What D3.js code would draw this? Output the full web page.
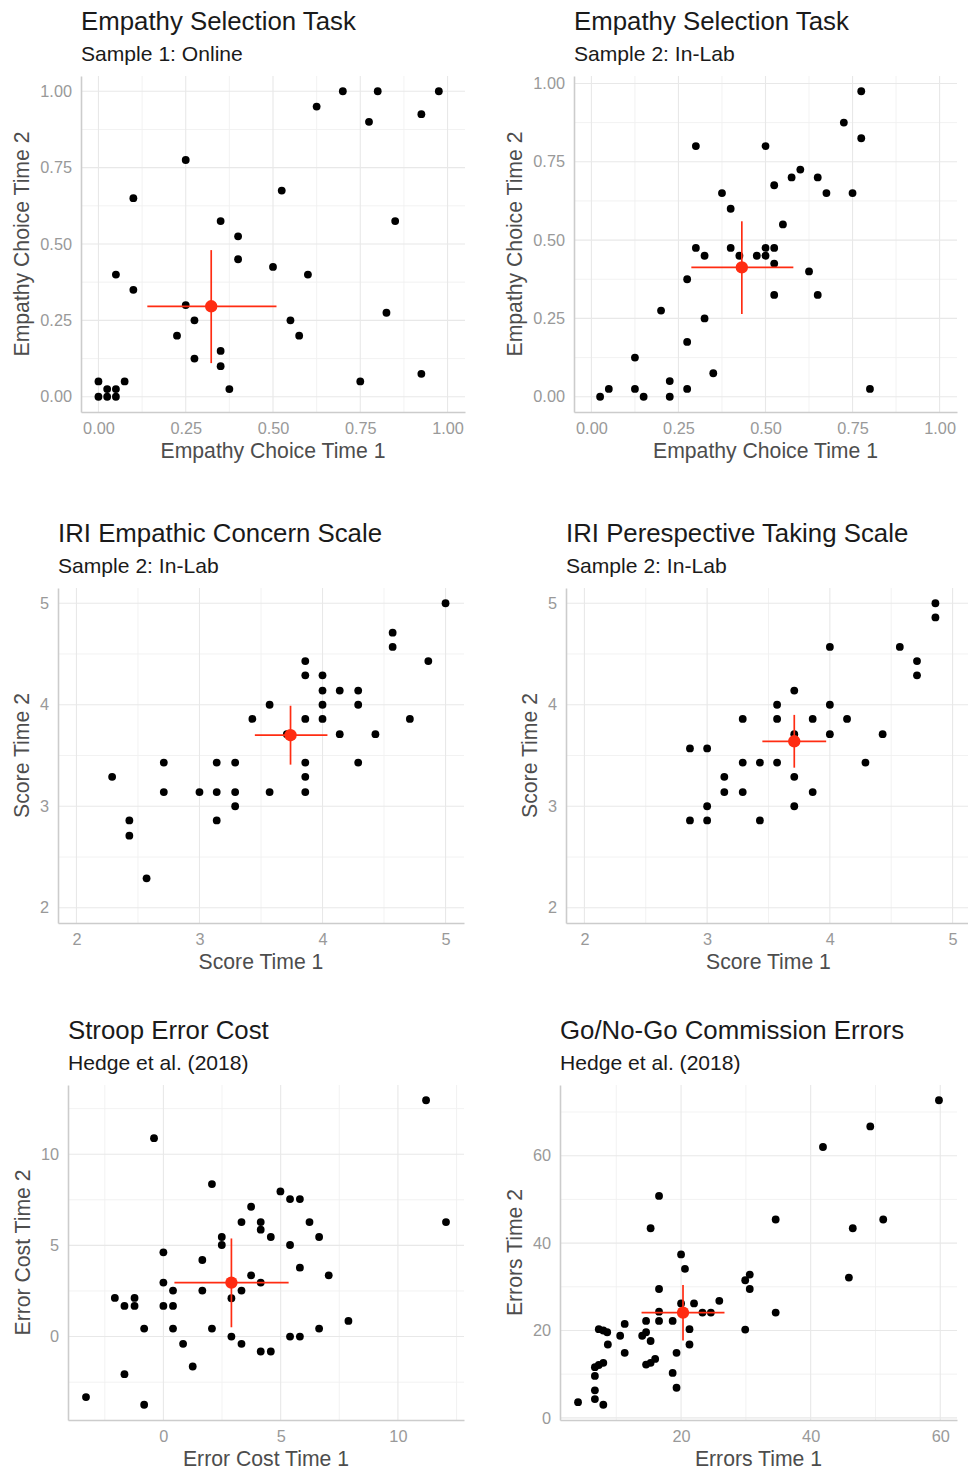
<!DOCTYPE html>
<html>
<head>
<meta charset="utf-8">
<script src="https://cdn.jsdelivr.net/npm/d3@7"></script>
<style>
  body { margin: 0; background: #fff; }
  svg { display: block; font-family: "Liberation Sans", Arial, Helvetica, sans-serif; }
</style>
</head>
<body>
<svg id="chart" width="968" height="1469"></svg>
<script>
// ---- data ----
// Empathy Selection Task, sample 1 (online)
const esOnlineT1 = [0,0,0.025,0.025,0.05,0.05,0.075,0.05,0.10,0.10,0.25,0.25,0.275,0.225,0.275,0.35,0.35,0.35,0.375,0.40,0.40,0.50,0.525,0.55,0.575,0.60,0.625,0.70,0.775,0.80,0.75,0.825,0.85,0.925,0.925,0.975];
const esOnlineT2 = [0,0.05,0,0.025,0,0.025,0.05,0.40,0.65,0.35,0.775,0.30,0.25,0.20,0.125,0.575,0.15,0.10,0.025,0.525,0.45,0.425,0.675,0.25,0.20,0.40,0.95,1.00,0.90,1.00,0.05,0.275,0.575,0.925,0.075,1.00];
const esOnlineMeanX = [0.323, 0.14, 0.51];   // mean, low, high
const esOnlineMeanY = [0.296, 0.11, 0.48];

// Empathy Selection Task, sample 2 (in-lab)
const esLabT1 = [0.025,0.05,0.125,0.125,0.15,0.20,0.225,0.225,0.275,0.275,0.275,0.30,0.30,0.325,0.325,0.35,0.375,0.40,0.40,0.425,0.475,0.50,0.50,0.50,0.525,0.525,0.525,0.525,0.55,0.575,0.60,0.625,0.65,0.65,0.675,0.725,0.75,0.775,0.775,0.80];
const esLabT2 = [0,0.025,0.025,0.125,0,0.275,0.05,0,0.025,0.175,0.375,0.80,0.475,0.45,0.25,0.075,0.65,0.60,0.475,0.45,0.45,0.80,0.475,0.45,0.475,0.425,0.675,0.325,0.55,0.70,0.725,0.40,0.70,0.325,0.65,0.875,0.65,0.975,0.825,0.025];
const esLabMeanX = [0.432, 0.287, 0.58];
const esLabMeanY = [0.413, 0.264, 0.56];

// IRI empathic concern
const ecT1 = [2.29,2.43,2.43,2.57,2.71,2.71,3,3.14,3.14,3.14,3.29,3.29,3.29,3.43,3.57,3.57,3.71,3.86,3.86,3.86,3.86,3.86,3.86,4,4,4,4,4.14,4.14,4.29,4.29,4.29,4.43,4.57,4.57,4.71,4.86,5];
const ecT2 = [3.29,2.86,2.71,2.29,3.43,3.14,3.14,3.43,3.14,2.86,3.43,3.14,3,3.86,4,3.14,3.71,4.43,4.29,3.86,3.43,3.29,3.14,4.29,4.14,4,3.86,4.14,3.71,4.14,4,3.43,3.71,4.71,4.57,3.86,4.43,5];
const ecMeanX = [3.74, 3.45, 4.04];
const ecMeanY = [3.70, 3.41, 3.99];

// IRI perspective taking
const ptT1 = [2.86,2.86,3,3,3,3.14,3.14,3.29,3.29,3.29,3.43,3.43,3.57,3.57,3.57,3.71,3.71,3.71,3.71,3.86,3.86,4,4,4,4.14,4.29,4.43,4.57,4.71,4.71,4.86,4.86];
const ptT2 = [3.57,2.86,3.57,3,2.86,3.29,3.14,3.86,3.43,3.14,3.43,2.86,4,3.86,3.43,4.14,3.71,3.29,3,3.86,3.14,4.57,4,3.71,3.86,3.43,3.71,4.57,4.43,4.29,5,4.86];
const ptMeanX = [3.71, 3.45, 3.97];
const ptMeanY = [3.64, 3.38, 3.90];

// Stroop error cost (Hedge et al.)
const stroopT1 = [-3.30,-2.07,-1.66,-1.66,-1.23,-1.23,-0.82,-0.82,-0.40,0,0,0,0.41,0.41,0.41,0.84,1.25,1.66,1.66,2.07,2.07,2.49,2.49,2.90,2.90,3.33,3.33,3.33,3.74,3.74,4.15,4.15,4.15,4.15,4.58,4.58,4.99,5.40,5.40,5.40,5.82,5.82,5.82,6.23,6.64,6.64,7.05,7.89,11.20,12.05];
const stroopT2 = [-3.32,2.12,1.68,-2.06,2.12,1.68,0.44,-3.74,10.88,4.62,2.96,1.68,2.52,1.68,0.44,-0.40,-1.64,4.20,2.52,8.36,0.44,5.46,5.02,2.10,0,6.28,2.52,-0.40,3.36,7.12,6.28,5.86,2.96,-0.82,5.46,-0.82,7.96,7.54,5.02,0,7.54,3.78,0,6.28,5.46,0.44,3.36,0.86,12.96,6.28];
const stroopMeanX = [2.90, 0.47, 5.34];
const stroopMeanY = [2.96, 0.51, 5.38];

// Go/No-Go commission errors (Hedge et al.)
const gngT1 = [4.1,6.7,6.7,6.7,6.7,7.3,7.3,8.0,8.0,8.0,8.6,8.7,10.6,11.3,11.3,14.0,14.6,14.6,14.6,15.3,15.3,15.3,16.0,16.6,16.6,16.6,16.6,18.7,18.7,19.3,19.3,20.0,20.0,20.6,21.3,21.3,22.0,23.3,24.6,25.9,29.9,29.9,30.6,30.6,34.6,34.6,41.9,45.9,46.5,49.2,51.2,59.8];
const gngT2 = [3.6,4.3,6.3,9.6,11.6,20.3,12.1,3.0,12.6,20.0,19.6,16.8,18.8,21.5,14.9,18.8,12.2,19.6,22.2,17.6,43.4,12.6,13.5,50.8,29.5,24.3,22.2,22.2,10.3,6.9,14.9,37.4,26.2,34.1,20.3,16.8,26.2,24.1,24.1,26.8,20.2,31.5,32.8,29.5,45.4,24.1,62.0,32.1,43.4,66.7,45.4,72.7];
const gngMeanX = [20.3, 13.9, 26.7];
const gngMeanY = [24.1, 17.7, 30.4];

// tick values
const propTicks = [0, 0.25, 0.5, 0.75, 1];
const scoreTicks = [2, 3, 4, 5];
const stroopTicks = [0, 5, 10];
const gngXTicks = [20, 40, 60];
const gngYTicks = [0, 20, 40, 60];

// ---- panel layout ----
const panels = [
  { title: "Empathy Selection Task", subtitle: "Sample 1: Online",
    xLabel: "Empathy Choice Time 1", yLabel: "Empathy Choice Time 2",
    xs: esOnlineT1, ys: esOnlineT2, mx: esOnlineMeanX, my: esOnlineMeanY,
    xLim: [0, 1], yLim: [0, 1], xTicks: propTicks, yTicks: propTicks, fmt: d3.format(".2f"),
    box: [81, 76, 465, 412] },
  { title: "Empathy Selection Task", subtitle: "Sample 2: In-Lab",
    xLabel: "Empathy Choice Time 1", yLabel: "Empathy Choice Time 2",
    xs: esLabT1, ys: esLabT2, mx: esLabMeanX, my: esLabMeanY,
    xLim: [0, 1], yLim: null, xTicks: propTicks, yTicks: propTicks, fmt: d3.format(".2f"),
    box: [574, 76, 957, 412] },
  { title: "IRI Empathic Concern Scale", subtitle: "Sample 2: In-Lab",
    xLabel: "Score Time 1", yLabel: "Score Time 2",
    xs: ecT1, ys: ecT2, mx: ecMeanX, my: ecMeanY,
    xLim: [2, 5], yLim: [2, 5], xTicks: scoreTicks, yTicks: scoreTicks, fmt: d3.format("d"),
    box: [58, 588, 464, 923] },
  { title: "IRI Perespective Taking Scale", subtitle: "Sample 2: In-Lab",
    xLabel: "Score Time 1", yLabel: "Score Time 2",
    xs: ptT1, ys: ptT2, mx: ptMeanX, my: ptMeanY,
    xLim: [2, 5], yLim: [2, 5], xTicks: scoreTicks, yTicks: scoreTicks, fmt: d3.format("d"),
    box: [566, 588, 971, 923] },
  { title: "Stroop Error Cost", subtitle: "Hedge et al. (2018)",
    xLabel: "Error Cost Time 1", yLabel: "Error Cost Time 2",
    xs: stroopT1, ys: stroopT2, mx: stroopMeanX, my: stroopMeanY,
    xLim: null, yLim: null, xTicks: stroopTicks, yTicks: stroopTicks, fmt: d3.format("d"),
    box: [68, 1085, 464, 1420] },
  { title: "Go/No-Go Commission Errors", subtitle: "Hedge et al. (2018)",
    xLabel: "Errors Time 1", yLabel: "Errors Time 2",
    xs: gngT1, ys: gngT2, mx: gngMeanX, my: gngMeanY,
    xLim: null, yLim: null, xTicks: gngXTicks, yTicks: gngYTicks, fmt: d3.format("d"),
    box: [560, 1085, 957, 1420] }
];

const red = "#ff2c12";
const svg = d3.select("#chart");

// ggplot style 5% expansion
function expand(lim) {
  const pad = (lim[1] - lim[0]) * 0.05;
  return [lim[0] - pad, lim[1] + pad];
}

function minorBreaks(ticks, domain) {
  const step = ticks[1] - ticks[0];
  const out = [];
  for (let v = ticks[0] - step / 2; v <= domain[1]; v += step) {
    if (v >= domain[0]) out.push(v);
  }
  return out;
}

panels.forEach(p => {
  const [l, t, r, b] = p.box;
  const xDom = expand(p.xLim || d3.extent(p.xs));
  const yDom = expand(p.yLim || d3.extent(p.ys));
  const x = d3.scaleLinear().domain(xDom).range([l, r]);
  const y = d3.scaleLinear().domain(yDom).range([b, t]);

  const g = svg.append("g");

  // grid: minor then major
  const grid = g.append("g");
  grid.selectAll(".vminor").data(minorBreaks(p.xTicks, xDom)).enter().append("line")
    .attr("x1", d => x(d)).attr("x2", d => x(d)).attr("y1", t).attr("y2", b)
    .attr("stroke", "#f0f0f0").attr("stroke-width", 0.9);
  grid.selectAll(".hminor").data(minorBreaks(p.yTicks, yDom)).enter().append("line")
    .attr("y1", d => y(d)).attr("y2", d => y(d)).attr("x1", l).attr("x2", r)
    .attr("stroke", "#f0f0f0").attr("stroke-width", 0.9);
  grid.selectAll(".vmajor").data(p.xTicks).enter().append("line")
    .attr("x1", d => x(d)).attr("x2", d => x(d)).attr("y1", t).attr("y2", b)
    .attr("stroke", "#e8e8e8").attr("stroke-width", 1.1);
  grid.selectAll(".hmajor").data(p.yTicks).enter().append("line")
    .attr("y1", d => y(d)).attr("y2", d => y(d)).attr("x1", l).attr("x2", r)
    .attr("stroke", "#e8e8e8").attr("stroke-width", 1.1);

  // axes
  const xAxis = g.append("g")
    .attr("transform", "translate(0," + b + ")")
    .call(d3.axisBottom(x).tickValues(p.xTicks).tickFormat(p.fmt).tickSize(0).tickPadding(10.5));
  const yAxis = g.append("g")
    .attr("transform", "translate(" + l + ",0)")
    .call(d3.axisLeft(y).tickValues(p.yTicks).tickFormat(p.fmt).tickSize(0).tickPadding(9));
  [xAxis, yAxis].forEach(a => {
    a.select(".domain").attr("stroke", "#cccccc").attr("stroke-width", 1.6);
    a.selectAll("text").attr("fill", "#999999").style("font-size", "16.3px")
      .style("font-family", "'Liberation Sans', Arial, sans-serif");
  });

  // points
  g.append("g").selectAll("circle")
    .data(p.xs.map((v, i) => [v, p.ys[i]]))
    .enter().append("circle")
    .attr("cx", d => x(d[0]))
    .attr("cy", d => y(d[1]))
    .attr("r", 3.9)
    .attr("fill", "#000");

  // mean with spread
  const m = g.append("g");
  m.append("line")
    .attr("x1", x(p.mx[1])).attr("x2", x(p.mx[2]))
    .attr("y1", y(p.my[0])).attr("y2", y(p.my[0]))
    .attr("stroke", red).attr("stroke-width", 1.7);
  m.append("line")
    .attr("x1", x(p.mx[0])).attr("x2", x(p.mx[0]))
    .attr("y1", y(p.my[1])).attr("y2", y(p.my[2]))
    .attr("stroke", red).attr("stroke-width", 1.7);
  m.append("circle")
    .attr("cx", x(p.mx[0])).attr("cy", y(p.my[0]))
    .attr("r", 6.2).attr("fill", red);

  // titles
  g.append("text").attr("x", l).attr("y", t - 46)
    .attr("fill", "#1a1a1a").style("font-size", "25.8px").text(p.title);
  g.append("text").attr("x", l).attr("y", t - 15)
    .attr("fill", "#1a1a1a").style("font-size", "21.1px").text(p.subtitle);

  // axis titles
  g.append("text").attr("x", (l + r) / 2).attr("y", b + 46)
    .attr("text-anchor", "middle").attr("fill", "#4d4d4d")
    .style("font-size", "21.2px").text(p.xLabel);

  const tickLeft = d3.min(yAxis.selectAll("text").nodes(), n => n.getBoundingClientRect().left);
  g.append("text")
    .attr("transform", "translate(" + (tickLeft - 11) + "," + ((t + b) / 2) + ") rotate(-90)")
    .attr("text-anchor", "middle").attr("fill", "#4d4d4d")
    .style("font-size", "21.2px").text(p.yLabel);
});
</script>
</body>
</html>
